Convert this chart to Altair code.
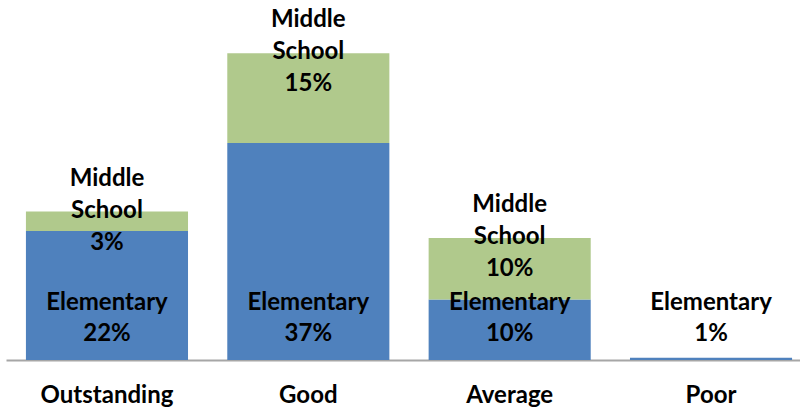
import altair as alt
import pandas as pd

categories = ["Outstanding", "Good", "Average", "Poor"]
elementary = [22, 37, 10.3, 0.4]
middle = [3.3, 15.3, 10.5, 0]
elementary_labels = ["22%", "37%", "10%", "1%"]
middle_labels = ["3%", "15%", "10%", ""]

series = ["Elementary", "Middle School"]
colors = ["#4F81BD", "#B0C98C"]

rows = []
for c, e, m in zip(categories, elementary, middle):
    rows.append({"category": c, "series": "Elementary", "value": e, "ord": 0})
    rows.append({"category": c, "series": "Middle School", "value": m, "ord": 1})
bars_df = pd.DataFrame(rows)

lab_df = pd.DataFrame({
    "category": categories,
    "elementary": elementary,
    "middle": middle,
    "total": [e + m for e, m in zip(elementary, middle)],
    "elem_text": ["Elementary\n" + l for l in elementary_labels],
    "mid_text": ["Middle\nSchool\n" + l for l in middle_labels],
})

FONT = "Lato"
FS = 24
xscale = alt.Scale(domain=categories, range=[0, 806], paddingInner=0.195, paddingOuter=0.099)
yscale = alt.Scale(domain=[0, 60])

x = alt.X("category:N", scale=xscale, sort=categories,
          axis=alt.Axis(title=None, ticks=False, grid=False, labelAngle=0,
                        labelFontSize=FS, labelFontWeight="bold", labelFont=FONT,
                        labelColor="#000000", labelBaseline="middle", labelPadding=35,
                        domainColor="#A6A6A6", domainWidth=2))

bars = alt.Chart(bars_df).mark_bar().encode(
    x=x,
    y=alt.Y("value:Q", stack="zero", scale=yscale, axis=None),
    color=alt.Color("series:N", scale=alt.Scale(domain=series, range=colors), legend=None),
    order=alt.Order("ord:Q"),
)

elem_text = alt.Chart(lab_df).mark_text(
    font=FONT, fontSize=FS, fontWeight="bold", color="#000000",
    lineBreak="\n", lineHeight=31, baseline="middle", dy=-57
).encode(
    x=alt.X("category:N", scale=xscale, sort=categories),
    y=alt.datum(0, scale=yscale),
    text="elem_text:N",
)

mid_text = alt.Chart(lab_df).transform_filter("datum.middle > 0").mark_text(
    font=FONT, fontSize=FS, fontWeight="bold", color="#000000",
    lineBreak="\n", lineHeight=32, baseline="middle", dy=-33
).encode(
    x=alt.X("category:N", scale=xscale, sort=categories),
    y=alt.Y("total:Q", scale=yscale),
    text="mid_text:N",
)

chart = alt.layer(bars, elem_text, mid_text).properties(
    width=794, height=352,
    autosize=alt.AutoSizeParams(type="none"),
    padding={"left": 6, "top": 8, "right": 0, "bottom": 52},
    background="#FFFFFF",
).configure_view(stroke=None)

chart.save("out.html", embed_options={"renderer": "svg", "actions": False})
